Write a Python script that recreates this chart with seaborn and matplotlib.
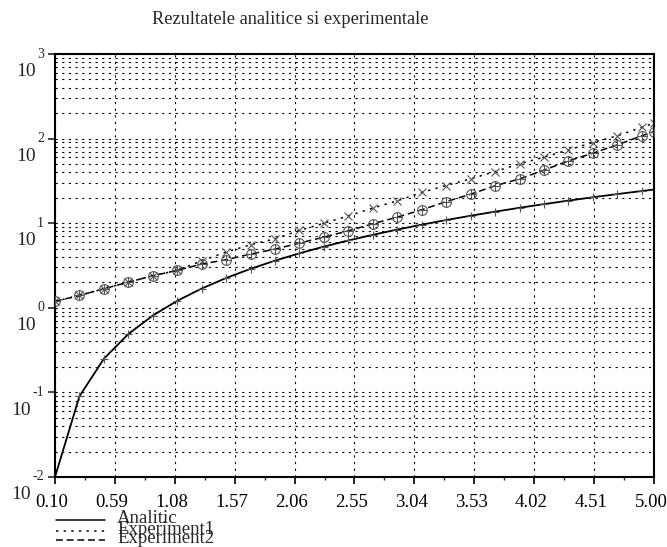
import numpy as np
import matplotlib
matplotlib.use("Agg")
import matplotlib.pyplot as plt
import matplotlib.transforms as mtransforms
from matplotlib.lines import Line2D
from matplotlib.ticker import FixedLocator, LogLocator, NullFormatter
import seaborn as sns

# ---------------- data ----------------
x_vals = [0.1, 0.3, 0.5, 0.7, 0.9, 1.1, 1.3, 1.5, 1.7, 1.9, 2.1, 2.3, 2.5,
          2.7, 2.9, 3.1, 3.3, 3.5, 3.7, 3.9, 4.1, 4.3, 4.5, 4.7, 4.9, 5.0]
analitic = [0.01, 0.09, 0.25, 0.49, 0.81, 1.21, 1.69, 2.25, 2.89, 3.61, 4.41,
            5.29, 6.25, 7.29, 8.41, 9.61, 10.89, 12.25, 13.69, 15.21, 16.81,
            18.49, 20.25, 22.09, 24.01, 25.0]
experiment1 = [1.19, 1.40, 1.68, 2.01, 2.39, 2.77, 3.6, 4.56, 5.56, 6.54, 8.2,
               10.0, 12.2, 15.1, 18.4, 23.1, 27.9, 33.4, 40.8, 50.3, 60.3,
               73.6, 89.7, 108, 136, 152]
experiment2 = [1.19, 1.40, 1.68, 2.01, 2.39, 2.77, 3.29, 3.70, 4.32, 4.94, 5.82,
               6.85, 8.13, 9.84, 11.8, 14.4, 18.0, 22.0, 27.7, 33.4, 42.4,
               54.5, 67.3, 84.3, 108, 121]
x_ticks = [0.10, 0.59, 1.08, 1.57, 2.06, 2.55, 3.04, 3.53, 4.02, 4.51, 5.00]
x_ticklabels = ["0.10", "0.59", "1.08", "1.57", "2.06", "2.55", "3.04",
                "3.53", "4.02", "4.51", "5.00"]
y_ticks = [1e-2, 1e-1, 1e0, 1e1, 1e2, 1e3]
y_exponents = ["-2", "-1", "0", "1", "2", "3"]
series_names = ["Analitic", "Experiment1", "Experiment2"]
title = "Rezultatele analitice si experimentale"

# ---------------- style ----------------
sns.set_style("ticks")
plt.rcParams["font.family"] = ["Liberation Serif", "DejaVu Serif"]
plt.rcParams["axes.unicode_minus"] = False

DPI = 100
fig = plt.figure(figsize=(6.67, 5.47), dpi=DPI)
ax = fig.add_axes([55 / 667, 1 - 477 / 547, 599 / 667, 423 / 547])
ax.set_yscale("log")
ax.set_xlim(0.1, 5.0)
ax.set_ylim(1e-2, 1e3)

dot_style = (0, (1.5, 3.5))
dash_style = (0, (4.5, 2.5))
mk_col = "#555555"

sns.lineplot(x=x_vals, y=analitic, ax=ax, color="black", lw=1.3,
             marker="+", markersize=6, markeredgecolor=mk_col,
             markeredgewidth=0.8, sort=False, estimator=None)
sns.lineplot(x=x_vals, y=experiment1, ax=ax, color="black", lw=1.1,
             linestyle=dot_style, marker="x", markersize=6,
             markeredgecolor=mk_col, markeredgewidth=0.8, sort=False,
             estimator=None)
sns.lineplot(x=x_vals, y=experiment2, ax=ax, color="black", lw=1.1,
             linestyle=dash_style, marker="o", markersize=7,
             markerfacecolor="none", markeredgecolor=mk_col,
             markeredgewidth=0.8, sort=False, estimator=None)
sns.scatterplot(x=x_vals, y=experiment2, ax=ax, marker="+", s=45,
                color=mk_col, linewidth=0.8, zorder=3)

# ---------------- grid / ticks ----------------
ax.set_axisbelow(True)
ax.xaxis.set_major_locator(FixedLocator(x_ticks))
mids = [(a + b) / 2 for a, b in zip(x_ticks[:-1], x_ticks[1:])]
ax.xaxis.set_minor_locator(FixedLocator(mids))
ax.set_xticklabels(x_ticklabels, fontsize=13.5)
ax.yaxis.set_major_locator(FixedLocator(y_ticks))
ax.yaxis.set_minor_locator(LogLocator(base=10, subs=np.arange(2, 10)))
ax.yaxis.set_minor_formatter(NullFormatter())
ax.set_yticklabels([])

ax.xaxis.grid(True, which="major", color="black", lw=0.8, linestyle=(0, (2, 4)))
ax.yaxis.grid(True, which="both", color="black", lw=0.8, linestyle=(0, (2, 4)))

ax.tick_params(axis="x", which="major", direction="out", length=5, width=1.2,
               pad=7, colors="black")
ax.tick_params(axis="x", which="minor", direction="out", length=2.5, width=1.0)
ax.tick_params(axis="y", which="major", direction="out", length=5, width=1.2)
ax.tick_params(axis="y", which="minor", length=0)
for sp in ax.spines.values():
    sp.set_linewidth(1.5)
    sp.set_color("black")

shift = mtransforms.ScaledTranslation(-3 / DPI, 0, fig.dpi_scale_trans)
for lab in ax.get_xticklabels():
    lab.set_transform(lab.get_transform() + shift)

# y labels: small exponent at tick, "10" below-left
ytr = ax.get_yaxis_transform() + mtransforms.ScaledTranslation(
    -11 / DPI, 0, fig.dpi_scale_trans)
for v, e in zip(y_ticks, y_exponents):
    t = ax.text(0, v, e, transform=ytr, ha="right", va="center", fontsize=10)
    ax.annotate("10", xy=(0, 0), xycoords=t, xytext=(-1, -2),
                textcoords="offset points", ha="right", va="top", fontsize=14,
                annotation_clip=False)

# ---------------- title ----------------
fig.text(290 / 667, 1 - 20 / 547, title, ha="center", va="center", fontsize=13.2)

# ---------------- legend (below axes) ----------------
leg_styles = ["-", dot_style, dash_style]
leg_y = [520, 530.5, 540]
for name, ls, yy in zip(series_names, leg_styles, leg_y):
    fy = 1 - yy / 547
    fig.add_artist(Line2D([56 / 667, 105 / 667], [fy, fy], color="black",
                          lw=1.1, linestyle=ls, transform=fig.transFigure))
    fig.text(117 / 667, 1 - (yy + 3) / 547, name, ha="left", va="baseline",
             fontsize=13.5)

fig.savefig("out.png", dpi=DPI)
